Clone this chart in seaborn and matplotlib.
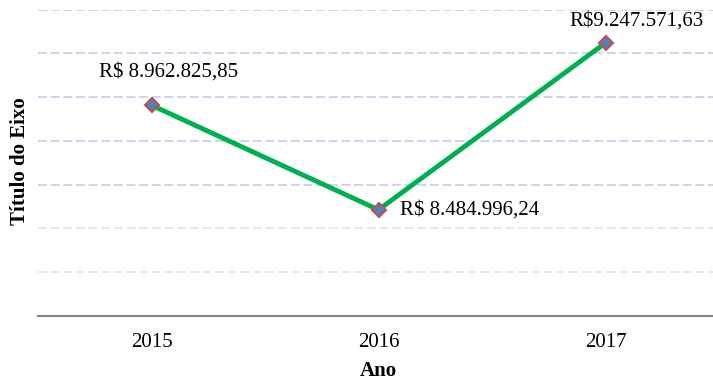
import matplotlib
matplotlib.use("Agg")
import matplotlib.pyplot as plt
import seaborn as sns
import pandas as pd

anos = ["2015", "2016", "2017"]
valores = [8962825.85, 8484996.24, 9247571.63]
prefixos = ["R$ ", "R$ ", "R$"]
# label offsets (pixels) relative to each point
deslocamentos = [(17, 33), (22, 0), (31, 22)]
alinhamentos = ["center", "left", "center"]

titulo_x = "Ano"
titulo_y = "Título do Eixo"


def moeda_br(v):
    s = f"{v:,.2f}"
    return s.replace(",", "X").replace(".", ",").replace("X", ".")


sns.set_theme(style="white")
plt.rcParams["font.family"] = ["Liberation Serif", "DejaVu Serif"]

df = pd.DataFrame({"Ano": anos, "Valor": valores})

W, H, DPI = 713, 383, 100
fig = plt.figure(figsize=(W / DPI, H / DPI), dpi=DPI)
left, right, top, bottom = 38, 719, 9.5, 316
ax = fig.add_axes([left / W, 1 - bottom / H, (right - left) / W, (bottom - top) / H])

sns.lineplot(
    data=df, x="Ano", y="Valor", ax=ax, color="#00b050", linewidth=3.5,
    marker="D", markersize=7.5, markerfacecolor="#4f81bd",
    markeredgecolor="#c0504d", markeredgewidth=1.5, sort=False,
)

ax.set_xlim(-0.5, 2.5)
ax.set_ylim(8.0e6, 9.4e6)
ax.set_yticks([8.0e6 + 2e5 * i for i in range(1, 8)])
ax.set_yticklabels([])
ax.tick_params(axis="both", length=0)
ax.tick_params(axis="x", labelsize=15, pad=12, colors="#000000")

ax.grid(axis="y", color="#c5d3eb", linewidth=1.3, linestyle=(0, (5, 2)))
ax.grid(axis="x", visible=False)
for i, gl in enumerate(ax.yaxis.get_gridlines()):
    if i < 2:
        gl.set_color("#dde7f6")

for s in ["left", "right", "top"]:
    ax.spines[s].set_visible(False)
ax.spines["bottom"].set_color("#868686")
ax.spines["bottom"].set_linewidth(1.6)

for i, (v, p) in enumerate(zip(valores, prefixos)):
    dx, dy = deslocamentos[i]
    ax.annotate(
        p + moeda_br(v), xy=(i, v), xytext=(dx, dy), textcoords="offset pixels",
        ha=alinhamentos[i], va="center", fontsize=15, color="#000000",
    )

ax.set_xlabel(titulo_x, fontsize=15, fontweight="bold", labelpad=7, color="#000000")
ax.set_ylabel(titulo_y, fontsize=15, fontweight="bold", color="#000000")
ax.yaxis.set_label_coords((30 - left) / (right - left), (bottom - 161) / (bottom - top))

fig.savefig("out.png", dpi=DPI, facecolor="white")
